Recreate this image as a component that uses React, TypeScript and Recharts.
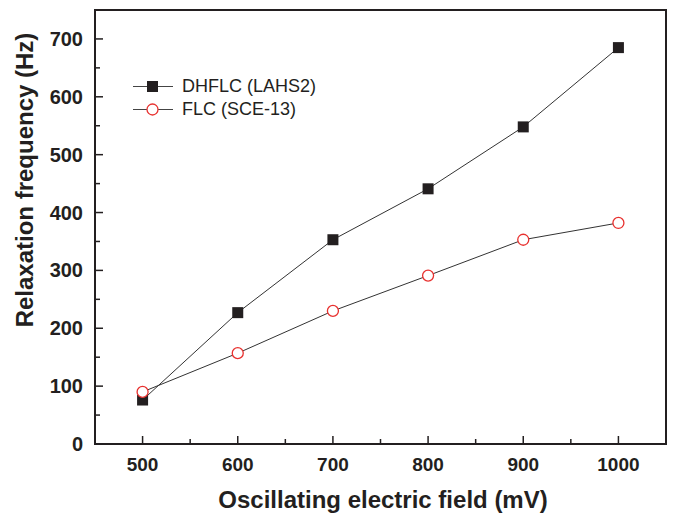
import React from "react";
import {
  LineChart,
  Line,
  XAxis,
  YAxis,
  ReferenceArea,
  Label,
} from "recharts";

// Oscillating field (mV)
const fields = [500, 600, 700, 800, 900, 1000];
// Relaxation frequency (Hz)
const dhflc = [76, 227, 353, 441, 548, 685];
const flc = [90, 157, 230, 291, 353, 382];

const xTicks = [500, 550, 600, 650, 700, 750, 800, 850, 900, 950, 1000];
const yTicks = [0, 50, 100, 150, 200, 250, 300, 350, 400, 450, 500, 550, 600, 650, 700];

const data = fields.map((f, i) => ({ field: f, dhflc: dhflc[i], flc: flc[i] }));

const FONT = "'Liberation Sans', Arial, sans-serif";
const INK = "#231f20";
const RED = "#e8312f";
const MARGIN = 10;

function YTick(props: any) {
  const { x, y, payload } = props;
  const axisX = x + MARGIN;
  const major = payload.value % 100 === 0;
  return (
    <g>
      <line x1={axisX} x2={axisX + (major ? 8 : 5)} y1={y} y2={y} stroke={INK} strokeWidth={1.5} />
      {major && (
        <text x={axisX - 12} y={y} dy={7} textAnchor="end" fontFamily={FONT} fontWeight="bold" fontSize={20} fill={INK}>
          {payload.value}
        </text>
      )}
    </g>
  );
}

function XTick(props: any) {
  const { x, y, payload } = props;
  const axisY = y - MARGIN;
  const major = payload.value % 100 === 0;
  return (
    <g>
      <line x1={x} x2={x} y1={axisY} y2={axisY - (major ? 8 : 5)} stroke={INK} strokeWidth={1.5} />
      {major && (
        <text x={x} y={axisY + 27} textAnchor="middle" fontFamily={FONT} fontWeight="bold" fontSize={19} fill={INK}>
          {payload.value}
        </text>
      )}
    </g>
  );
}

function SquareDot(props: any) {
  const { cx, cy } = props;
  if (cx == null || cy == null) return null;
  return <rect x={cx - 5.5} y={cy - 5.5} width={11} height={11} fill={INK} />;
}

function CircleDot(props: any) {
  const { cx, cy } = props;
  if (cx == null || cy == null) return null;
  return <circle cx={cx} cy={cy} r={5.5} fill="#fff" stroke={RED} strokeWidth={1.3} />;
}

function LegendBox() {
  const rows = [
    { name: "DHFLC (LAHS2)", icon: <rect x={14} y={5} width={11} height={11} fill={INK} /> },
    { name: "FLC (SCE-13)", icon: <circle cx={19.5} cy={10.5} r={5.5} fill="#fff" stroke={RED} strokeWidth={1.3} /> },
  ];
  return (
    <div style={{ position: "absolute", left: 133, top: 75, fontFamily: FONT, fontSize: 18, color: INK }}>
      {rows.map((r) => (
        <div key={r.name} style={{ display: "flex", alignItems: "center", height: 23 }}>
          <svg width={40} height={21} style={{ marginRight: 9 }}>
            <line x1={0} x2={40} y1={10.5} y2={10.5} stroke="#444" strokeWidth={1} />
            {r.icon}
          </svg>
          <span>{r.name}</span>
        </div>
      ))}
    </div>
  );
}

export default function App() {
  return (
    <div style={{ position: "absolute", left: 0, top: 0, width: 674, height: 513, background: "#fff" }}>
      <LineChart width={674} height={513} data={data} margin={{ top: 10, right: 8, bottom: 0, left: 0 }}>
        <XAxis
          dataKey="field"
          type="number"
          domain={[450, 1050]}
          ticks={xTicks}
          interval={0}
          height={69}
          axisLine={false}
          tickLine={false}
          tickSize={0}
          tickMargin={MARGIN}
          tick={<XTick />}
        >
          <Label
            content={() => (
              <text x={383} y={508} textAnchor="middle" fontFamily={FONT} fontWeight="bold" fontSize={24} fill={INK}>
                Oscillating electric field (mV)
              </text>
            )}
          />
        </XAxis>
        <YAxis
          type="number"
          domain={[0, 750]}
          ticks={yTicks}
          interval={0}
          width={95}
          axisLine={false}
          tickLine={false}
          tickSize={0}
          tickMargin={MARGIN}
          tick={<YTick />}
        >
          <Label
            content={() => (
              <text
                x={33}
                y={180}
                transform="rotate(-90 33 180)"
                textAnchor="middle"
                fontFamily={FONT}
                fontWeight="bold"
                fontSize={24}
                fill={INK}
              >
                Relaxation frequency (Hz)
              </text>
            )}
          />
        </YAxis>
        <ReferenceArea x1={450} x2={1050} y1={0} y2={750} fill="none" stroke={INK} strokeWidth={2} ifOverflow="visible" />
        <Line
          dataKey="dhflc"
          type="linear"
          stroke="#333"
          strokeWidth={1}
          dot={<SquareDot />}
          activeDot={false}
          isAnimationActive={false}
        />
        <Line
          dataKey="flc"
          type="linear"
          stroke="#333"
          strokeWidth={1}
          dot={<CircleDot />}
          activeDot={false}
          isAnimationActive={false}
        />
      </LineChart>
      <LegendBox />
    </div>
  );
}
